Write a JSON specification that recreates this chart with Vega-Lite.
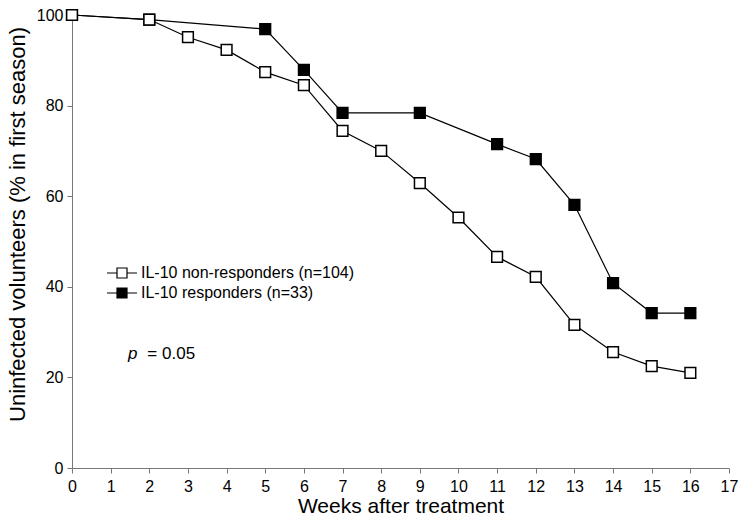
{
  "$schema": "https://vega.github.io/schema/vega-lite/v6.json",
  "width": 657,
  "height": 453,
  "autosize": "none",
  "padding": {"left": 72, "top": 15, "right": 15, "bottom": 54},
  "background": "white",
  "config": {
    "view": {"stroke": null},
    "font": "Liberation Sans",
    "axis": {"grid": false, "domainColor": "#777", "tickColor": "#777", "labelColor": "black", "titleColor": "black", "labelFontSize": 16, "titleFontWeight": "normal", "tickSize": 5, "labelOverlap": false, "labelFlush": false}
  },
  "datasets": {
    "series": [
      {"week": 0, "pct": 100, "group": "IL-10 non-responders (n=104)"},
      {"week": 2, "pct": 99, "group": "IL-10 non-responders (n=104)"},
      {"week": 3, "pct": 95.1, "group": "IL-10 non-responders (n=104)"},
      {"week": 4, "pct": 92.3, "group": "IL-10 non-responders (n=104)"},
      {"week": 5, "pct": 87.4, "group": "IL-10 non-responders (n=104)"},
      {"week": 6, "pct": 84.5, "group": "IL-10 non-responders (n=104)"},
      {"week": 7, "pct": 74.4, "group": "IL-10 non-responders (n=104)"},
      {"week": 8, "pct": 70, "group": "IL-10 non-responders (n=104)"},
      {"week": 9, "pct": 62.9, "group": "IL-10 non-responders (n=104)"},
      {"week": 10, "pct": 55.3, "group": "IL-10 non-responders (n=104)"},
      {"week": 11, "pct": 46.6, "group": "IL-10 non-responders (n=104)"},
      {"week": 12, "pct": 42.2, "group": "IL-10 non-responders (n=104)"},
      {"week": 13, "pct": 31.6, "group": "IL-10 non-responders (n=104)"},
      {"week": 14, "pct": 25.6, "group": "IL-10 non-responders (n=104)"},
      {"week": 15, "pct": 22.5, "group": "IL-10 non-responders (n=104)"},
      {"week": 16, "pct": 21, "group": "IL-10 non-responders (n=104)"},
      {"week": 0, "pct": 100, "group": "IL-10 responders (n=33)"},
      {"week": 2, "pct": 99, "group": "IL-10 responders (n=33)"},
      {"week": 5, "pct": 96.9, "group": "IL-10 responders (n=33)"},
      {"week": 6, "pct": 87.9, "group": "IL-10 responders (n=33)"},
      {"week": 7, "pct": 78.4, "group": "IL-10 responders (n=33)"},
      {"week": 9, "pct": 78.4, "group": "IL-10 responders (n=33)"},
      {"week": 11, "pct": 71.5, "group": "IL-10 responders (n=33)"},
      {"week": 12, "pct": 68.2, "group": "IL-10 responders (n=33)"},
      {"week": 13, "pct": 58.1, "group": "IL-10 responders (n=33)"},
      {"week": 14, "pct": 40.8, "group": "IL-10 responders (n=33)"},
      {"week": 15, "pct": 34.2, "group": "IL-10 responders (n=33)"},
      {"week": 16, "pct": 34.2, "group": "IL-10 responders (n=33)"}
    ],
    "annot": [
      {"week": 1.45, "pct": 25.2, "label": "p", "style": "italic"},
      {"week": 1.95, "pct": 25.2, "label": "= 0.05", "style": "normal"}
    ]
  },
  "encoding": {
    "x": {"field": "week", "type": "quantitative", "scale": {"domain": [0, 17]}, "axis": {"values": [0,1,2,3,4,5,6,7,8,9,10,11,12,13,14,15,16,17], "title": "Weeks after treatment", "titleFontSize": 21, "titlePadding": 1, "labelPadding": 5}},
    "y": {"field": "pct", "type": "quantitative", "scale": {"domain": [0, 100]}, "axis": {"values": [0,20,40,60,80,100], "title": "Uninfected volunteers (% in first season)", "titleFontSize": 22, "titleX": -43, "titleY": 209, "labelPadding": 4}}
  },
  "layer": [
    {
      "data": {"name": "series"},
      "mark": {"type": "line", "color": "black", "strokeWidth": 1.2},
      "encoding": {
        "detail": {"field": "group"}
      }
    },
    {
      "data": {"name": "series"},
      "transform": [{"calculate": "datum.group == 'IL-10 responders (n=33)' ? 0 : 1", "as": "ord"}],
      "mark": {"type": "point", "shape": "square", "size": 115, "stroke": "black", "strokeWidth": 1.5, "opacity": 1, "filled": false},
      "encoding": {
        "order": {"field": "ord"},
        "fill": {
          "field": "group", "type": "nominal",
          "scale": {"domain": ["IL-10 non-responders (n=104)", "IL-10 responders (n=33)"], "range": ["white", "black"]},
          "legend": {
            "title": null, "orient": "none", "legendX": 27, "legendY": 250, "padding": 0,
            "symbolType": "M-3,0H-1M1,0H3M-1,-1H1V1H-1Z",
            "symbolSize": 100, "symbolStrokeColor": "black", "symbolStrokeWidth": 1.2,
            "labelFontSize": 16, "labelColor": "black", "labelLimit": 0, "rowPadding": 4, "labelOffset": 11, "symbolOffset": 15
          }
        }
      }
    },
    {
      "data": {"name": "annot"},
      "transform": [{"filter": "datum.style == 'italic'"}],
      "mark": {"type": "text", "fontSize": 17, "fontStyle": "italic", "align": "left", "baseline": "middle", "color": "black"},
      "encoding": {"text": {"field": "label"}}
    },
    {
      "data": {"name": "annot"},
      "transform": [{"filter": "datum.style == 'normal'"}],
      "mark": {"type": "text", "fontSize": 17, "align": "left", "baseline": "middle", "color": "black"},
      "encoding": {"text": {"field": "label"}}
    }
  ]
}
